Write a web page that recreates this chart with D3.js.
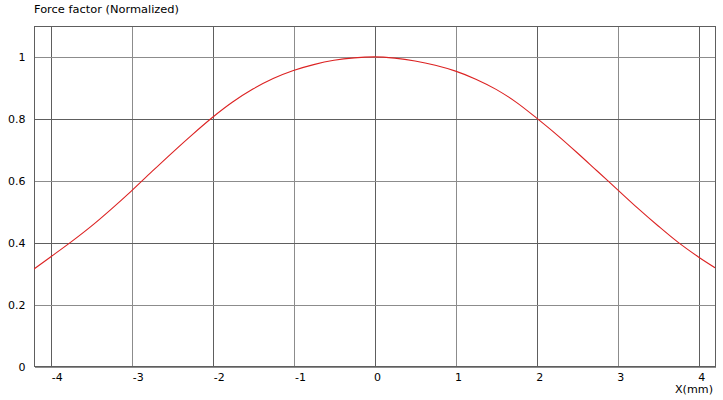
<!DOCTYPE html>
<html>
<head>
<meta charset="utf-8">
<script src="https://cdn.jsdelivr.net/npm/d3@7"></script>
<style>
  body { margin: 0; background: #ffffff; }
  text { font-family: "DejaVu Sans", Verdana, sans-serif; font-size: 11px; fill: #000; }
</style>
</head>
<body>
<script>
// values
const xValues = [-4.2, -4, -3.75, -3.5, -3.25, -3, -2.75, -2.5, -2.25, -2, -1.75, -1.5, -1.25, -1, -0.75, -0.5, -0.25,
  0, 0.25, 0.5, 0.75, 1, 1.25, 1.5, 1.75, 2, 2.25, 2.5, 2.75, 3, 3.25, 3.5, 3.75, 4, 4.2];
const forceValues = [0.314, 0.352, 0.400, 0.451, 0.507, 0.566, 0.628, 0.689, 0.748, 0.804, 0.854, 0.896, 0.930, 0.956, 0.975, 0.989, 0.997,
  1.000, 0.996, 0.987, 0.973, 0.954, 0.928, 0.895, 0.853, 0.802, 0.748, 0.690, 0.630, 0.570, 0.510, 0.453, 0.399, 0.352, 0.318];
const xTicks = [-4, -3, -2, -1, 0, 1, 2, 3, 4];
const yTicks = [0, 0.2, 0.4, 0.6, 0.8, 1];
const yTitle = "Force factor (Normalized)";
const xTitle = "X(mm)";

const width = 723;
const height = 400;
const plotLeft = 34, plotRight = 715, plotTop = 26, plotBottom = 366;
const darkGrid = "#5e5e5e";
const lightGrid = "#8c8c8c";

const svg = d3.select("body").append("svg")
    .attr("width", width)
    .attr("height", height);

const x = d3.scaleLinear().domain([-4.2, 4.2]).range([plotLeft, plotRight]);
const y = d3.scaleLinear().domain([0, 1.1]).range([plotBottom, plotTop]);

// x axis with grid lines going up
const gx = svg.append("g")
    .attr("transform", `translate(0.5,${plotBottom + 0.5})`)
    .call(d3.axisBottom(x).tickValues(xTicks).tickSize(-(plotBottom - plotTop)).tickPadding(7).tickFormat(d => String(d)));
gx.select(".domain").remove();
gx.selectAll(".tick line")
    .attr("stroke", d => d % 2 === 0 ? darkGrid : lightGrid)
    .attr("shape-rendering", "crispEdges");
gx.selectAll(".tick text")
    .attr("fill", "#000")
    .attr("dx", d => d < 0 ? 6 : 2)
    .style("font-size", "11px")
    .style("font-family", "'DejaVu Sans', Verdana, sans-serif");

// y axis with grid lines going right
const gy = svg.append("g")
    .attr("transform", `translate(${plotLeft + 0.5},0.5)`)
    .call(d3.axisLeft(y).tickValues(yTicks).tickSize(-(plotRight - plotLeft)).tickPadding(9).tickFormat(d => String(d)));
gy.select(".domain").remove();
gy.selectAll(".tick line")
    .attr("stroke", d => Math.round(d * 5) % 2 === 0 && d > 0 ? darkGrid : lightGrid)
    .attr("shape-rendering", "crispEdges");
gy.selectAll(".tick text")
    .attr("fill", "#000")
    .style("font-size", "11px")
    .style("font-family", "'DejaVu Sans', Verdana, sans-serif");

// plot frame
svg.append("rect")
    .attr("x", plotLeft + 0.5)
    .attr("y", plotTop + 0.5)
    .attr("width", plotRight - plotLeft)
    .attr("height", plotBottom - plotTop)
    .attr("fill", "none")
    .attr("stroke", darkGrid)
    .attr("shape-rendering", "crispEdges");

// the curve
svg.append("defs").append("clipPath").attr("id", "plot")
    .append("rect").attr("x", plotLeft).attr("y", plotTop).attr("width", plotRight - plotLeft).attr("height", plotBottom - plotTop);

const line = d3.line()
    .x((d, i) => x(xValues[i]))
    .y(d => y(d))
    .curve(d3.curveMonotoneX);

svg.append("path")
    .datum(forceValues)
    .attr("clip-path", "url(#plot)")
    .attr("fill", "none")
    .attr("stroke", "#dc2222")
    .attr("stroke-width", 1.1)
    .attr("d", line);

// titles
svg.append("text")
    .attr("x", plotLeft)
    .attr("y", 13)
    .attr("textLength", 145)
    .attr("lengthAdjust", "spacingAndGlyphs")
    .text(yTitle);

svg.append("text")
    .attr("x", 675)
    .attr("y", 393)
    .attr("textLength", 38)
    .attr("lengthAdjust", "spacingAndGlyphs")
    .text(xTitle);
</script>
</body>
</html>
